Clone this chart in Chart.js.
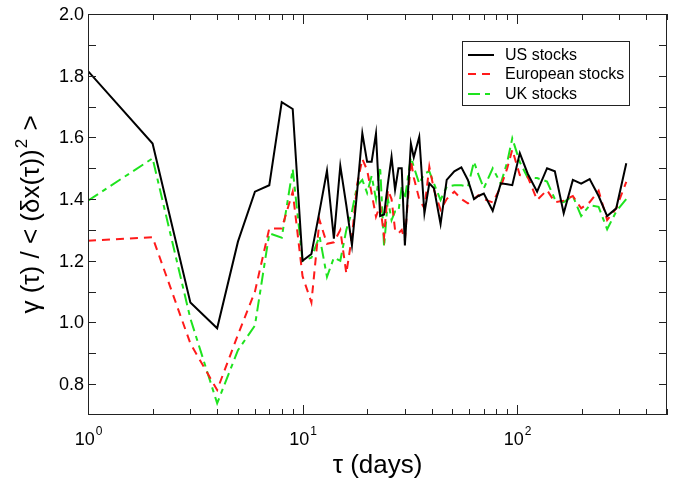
<!DOCTYPE html>
<html>
<head>
<meta charset="utf-8">
<script src="https://cdn.jsdelivr.net/npm/chart.js@4.4.1/dist/chart.umd.min.js"></script>
<style>
    html, body { margin: 0; padding: 0; background: #fff; }
    canvas { display: block; }
</style>
</head>
<body>
<canvas id="chart" width="673" height="483"></canvas>
<script>
// Chart data
const taus = [1, 2, 3, 4, 5, 6, 7, 8, 9, 10, 11, 12, 13, 14, 15, 16, 17, 18, 19, 20,
    21, 22, 23, 24, 25, 26, 27, 28, 29, 30, 31, 32, 33, 35, 37, 39, 41, 44, 47, 51,
    55, 59, 63, 66, 70, 77, 84, 90, 95, 103, 112, 124, 138, 150, 165, 182, 199, 218,
    240, 263, 290, 323];

const usStocks = [1.815, 1.58, 1.065, 0.981, 1.262, 1.424, 1.445, 1.714, 1.692, 1.200,
    1.222, 1.36, 1.492, 1.272, 1.508, 1.38, 1.250, 1.43, 1.613, 1.521,
    1.521, 1.612, 1.345, 1.350, 1.45, 1.537, 1.43, 1.50, 1.50, 1.25,
    1.42, 1.58, 1.535, 1.602, 1.354, 1.451, 1.435, 1.319, 1.462, 1.49,
    1.503, 1.462, 1.40, 1.41, 1.418, 1.362, 1.451, 1.448, 1.445, 1.549,
    1.483, 1.424, 1.50, 1.49, 1.354, 1.462, 1.45, 1.465, 1.41, 1.345, 1.37, 1.516];

const europeanStocks = [1.265, 1.276, 0.932, 0.781, 0.96, 1.10, 1.305, 1.305, 1.424, 1.15,
    1.065, 1.332, 1.255, 1.26, 1.30, 1.159, 1.28, 1.45, 1.53, 1.494,
    1.418, 1.343, 1.38, 1.278, 1.43, 1.40, 1.30, 1.289, 1.30, 1.267,
    1.40, 1.526, 1.47, 1.40, 1.37, 1.505, 1.43, 1.365, 1.40, 1.424,
    1.40, 1.386, 1.40, 1.412, 1.40, 1.389, 1.44, 1.50, 1.56, 1.478,
    1.473, 1.397, 1.429, 1.39, 1.395, 1.41, 1.37, 1.39, 1.427, 1.332, 1.37, 1.456];

const ukStocks = [1.395, 1.532, 1.013, 0.738, 0.91, 0.99, 1.289, 1.275, 1.497, 1.2,
    1.21, 1.28, 1.148, 1.21, 1.20, 1.30, 1.36, 1.445, 1.462, 1.42,
    1.475, 1.40, 1.505, 1.245, 1.40, 1.332, 1.36, 1.36, 1.44, 1.40,
    1.47, 1.535, 1.505, 1.45, 1.483, 1.49, 1.45, 1.397, 1.44, 1.445,
    1.445, 1.44, 1.521, 1.48, 1.435, 1.50, 1.45, 1.52, 1.597, 1.52,
    1.47, 1.468, 1.457, 1.40, 1.39, 1.41, 1.345, 1.38, 1.375, 1.302, 1.36, 1.40];

const seriesNames = ['US stocks', 'European stocks', 'UK stocks'];
const xTickValues = [1, 10, 100];
const xTickExponents = ['0', '1', '2'];
const yTickValues = [0.8, 1.0, 1.2, 1.4, 1.6, 1.8, 2.0];

const FONT = '"Liberation Sans", Arial, Helvetica, sans-serif';

const toPoints = values => taus.map((t, i) => ({ x: t, y: values[i] }));

// Frame, inward ticks, labels and legend
const framePlugin = {
    id: 'frame',
    afterDraw(chart) {
        const ctx = chart.ctx;
        const area = chart.chartArea;
        const xs = chart.scales.x;
        const ys = chart.scales.y;

        ctx.save();
        ctx.strokeStyle = '#222';
        ctx.lineWidth = 1;
        ctx.strokeRect(area.left + 0.5, area.top + 0.5, area.width - 1, area.height - 1);

        // x ticks (major at decades, minor between)
        ctx.beginPath();
        for (let dec = 1; dec <= 100; dec *= 10) {
            for (let m = 1; m <= 9; m++) {
                const v = dec * m;
                if (v > xs.max) break;
                const px = Math.round(xs.getPixelForValue(v)) + 0.5;
                const len = m === 1 ? 10 : 6;
                ctx.moveTo(px, area.bottom);
                ctx.lineTo(px, area.bottom - len);
                ctx.moveTo(px, area.top);
                ctx.lineTo(px, area.top + len);
            }
        }
        // y ticks every 0.1
        for (let k = 8; k <= 19; k++) {
            const py = Math.round(ys.getPixelForValue(k / 10)) + 0.5;
            ctx.moveTo(area.left, py);
            ctx.lineTo(area.left + 8, py);
            ctx.moveTo(area.right, py);
            ctx.lineTo(area.right - 8, py);
        }
        ctx.stroke();

        // y tick labels
        ctx.fillStyle = '#000';
        ctx.font = '18px ' + FONT;
        ctx.textAlign = 'right';
        ctx.textBaseline = 'middle';
        yTickValues.forEach(v => {
            ctx.fillText(v.toFixed(1), area.left - 4, ys.getPixelForValue(v) + 1);
        });

        // x tick labels with superscripts
        ctx.textBaseline = 'alphabetic';
        ctx.textAlign = 'left';
        xTickValues.forEach((v, i) => {
            const px = xs.getPixelForValue(v);
            ctx.font = '18px ' + FONT;
            const wBase = ctx.measureText('10').width;
            ctx.font = '12px ' + FONT;
            const wSup = ctx.measureText(xTickExponents[i]).width;
            const x0 = px - (wBase + wSup) / 2;
            ctx.font = '18px ' + FONT;
            ctx.fillText('10', x0, 445);
            ctx.font = '12px ' + FONT;
            ctx.fillText(xTickExponents[i], x0 + wBase + 1, 435);
        });

        // x axis title
        ctx.font = '26px ' + FONT;
        ctx.textAlign = 'center';
        ctx.fillText('τ (days)', (area.left + area.right) / 2, 473);

        // y axis title, rotated
        const main = 'γ (τ) / < (δx(τ))';
        const sup = '2';
        const tail = ' >';
        ctx.font = '26px ' + FONT;
        const wMain = ctx.measureText(main).width;
        const wTail = ctx.measureText(tail).width;
        ctx.font = '17px ' + FONT;
        const wS = ctx.measureText(sup).width;
        const total = wMain + wS + wTail + 2;
        ctx.translate(39, (area.top + area.bottom) / 2);
        ctx.rotate(-Math.PI / 2);
        ctx.textAlign = 'left';
        let cx = -total / 2;
        ctx.font = '26px ' + FONT;
        ctx.fillText(main, cx, 0);
        cx += wMain + 1;
        ctx.font = '17px ' + FONT;
        ctx.fillText(sup, cx, -12);
        cx += wS + 1;
        ctx.font = '26px ' + FONT;
        ctx.fillText(tail, cx, 0);
        ctx.restore();

        // legend box
        ctx.save();
        ctx.strokeStyle = '#222';
        ctx.lineWidth = 1;
        ctx.strokeRect(462.5, 41.5, 167, 64);
        const rows = [55, 74, 94];
        chart.data.datasets.forEach((ds, i) => {
            ctx.beginPath();
            ctx.strokeStyle = ds.borderColor;
            ctx.lineWidth = ds.borderWidth;
            ctx.setLineDash(ds.borderDash || []);
            ctx.moveTo(468, rows[i]);
            ctx.lineTo(494, rows[i]);
            ctx.stroke();
            ctx.setLineDash([]);
            ctx.fillStyle = '#000';
            ctx.font = '16px ' + FONT;
            ctx.textAlign = 'left';
            ctx.textBaseline = 'middle';
            ctx.fillText(seriesNames[i], 505, rows[i] + 1);
        });
        ctx.restore();
    }
};

new Chart(document.getElementById('chart'), {
    type: 'line',
    data: {
        datasets: [
            {
                label: seriesNames[0],
                data: toPoints(usStocks),
                borderColor: '#000000',
                borderWidth: 2,
                pointRadius: 0,
                tension: 0
            },
            {
                label: seriesNames[1],
                data: toPoints(europeanStocks),
                borderColor: '#ff1a1a',
                borderWidth: 2,
                borderDash: [8, 6],
                pointRadius: 0,
                tension: 0
            },
            {
                label: seriesNames[2],
                data: toPoints(ukStocks),
                borderColor: '#1ee31e',
                borderWidth: 2,
                borderDash: [12, 5, 5, 5],
                pointRadius: 0,
                tension: 0
            }
        ]
    },
    options: {
        responsive: false,
        animation: false,
        layout: {
            padding: { left: 88, right: 6, top: 14, bottom: 68 }
        },
        plugins: {
            legend: { display: false },
            tooltip: { enabled: false }
        },
        scales: {
            x: {
                type: 'logarithmic',
                min: 1,
                max: 500,
                display: false
            },
            y: {
                type: 'linear',
                min: 0.7,
                max: 2.0,
                display: false
            }
        }
    },
    plugins: [framePlugin]
});
</script>
</body>
</html>
